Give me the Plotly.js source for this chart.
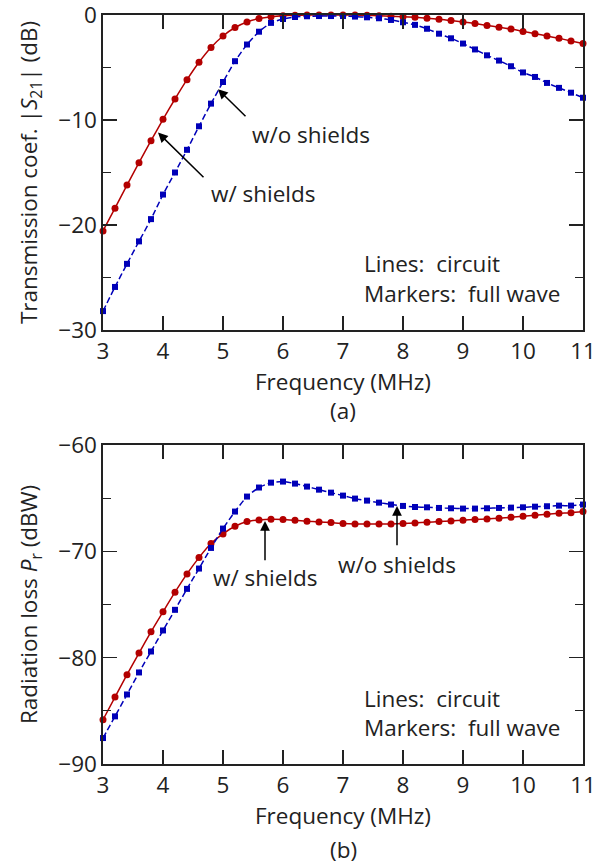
<!DOCTYPE html>
<html>
<head>
<meta charset="utf-8">
<script src="https://cdn.plot.ly/plotly-3.0.1.min.js"></script>
<style>html,body{margin:0;padding:0;background:#fff;}#chart{width:611px;height:867px;}</style>
</head>
<body>
<div id="chart"></div>
<script>
// Frequency samples (MHz)
var freq = [3.0,3.2,3.4,3.6,3.8,4.0,4.2,4.4,4.6,4.8,5.0,5.2,5.4,5.6,5.8,6.0,6.2,6.4,6.6,6.8,7.0,
            7.2,7.4,7.6,7.8,8.0,8.2,8.4,8.6,8.8,9.0,9.2,9.4,9.6,9.8,10.0,10.2,10.4,10.6,10.8,11.0];

// (a) Transmission coefficient |S21| (dB)
var s21With = [-20.56,-18.4,-16.2,-14.06,-11.97,-9.94,-8.0,-6.16,-4.5,-3.09,-2.0,-1.19,-0.66,-0.34,-0.16,-0.06,-0.03,-0.01,0,0,0,
               -0.01,-0.03,-0.07,-0.12,-0.16,-0.22,-0.31,-0.4,-0.53,-0.66,-0.81,-1.0,-1.16,-1.34,-1.56,-1.78,-2.0,-2.22,-2.47,-2.72];
var s21Without = [-28.2,-25.9,-23.7,-21.56,-19.44,-17.1,-15.0,-12.84,-10.6,-8.44,-6.38,-4.4,-2.81,-1.59,-0.75,-0.38,-0.19,-0.12,-0.1,-0.1,-0.1,
                  -0.15,-0.22,-0.31,-0.47,-0.69,-0.94,-1.31,-1.78,-2.22,-2.72,-3.28,-3.84,-4.34,-4.88,-5.47,-5.9,-6.47,-6.94,-7.4,-7.88];

// (b) Radiation loss Pr (dBW)
var prWith = [-85.84,-83.71,-81.6,-79.57,-77.57,-75.69,-73.84,-72.12,-70.59,-69.27,-68.36,-67.64,-67.2,-67.05,-66.98,-67.0,-67.08,-67.17,-67.23,-67.3,-67.38,
              -67.42,-67.42,-67.42,-67.42,-67.39,-67.33,-67.27,-67.2,-67.14,-67.08,-67.0,-66.95,-66.89,-66.8,-66.7,-66.6,-66.51,-66.42,-66.36,-66.26];
var prWithout = [-87.56,-85.52,-83.46,-81.39,-79.42,-77.44,-75.5,-73.53,-71.62,-69.68,-67.86,-66.26,-64.85,-64.0,-63.54,-63.44,-63.63,-63.91,-64.2,-64.48,-64.76,
                 -65.04,-65.23,-65.42,-65.6,-65.73,-65.83,-65.86,-65.92,-65.95,-65.98,-65.98,-65.95,-65.92,-65.89,-65.86,-65.8,-65.76,-65.7,-65.7,-65.6];

var xTicks = [3,4,5,6,7,8,9,10,11];

var RED = '#b30000', BLUE = '#0000b8';
var FONT = 'Open Sans, DejaVu Sans, sans-serif';
var FS = 22.5;

function series(y, xa, ya, color, dash, symbol, size) {
  return {
    x: freq, y: y, xaxis: xa, yaxis: ya, mode: 'lines+markers', type: 'scatter',
    line: {color: color, width: 1.5, dash: dash, shape: 'spline', smoothing: 0.6},
    marker: {color: color, symbol: symbol, size: size},
    showlegend: false, hoverinfo: 'x+y', cliponaxis: false
  };
}

var data = [
  series(s21With, 'x', 'y', RED, 'solid', 'circle', 7),
  series(s21Without, 'x', 'y', BLUE, '6px,3px', 'square', 6),
  series(prWith, 'x2', 'y2', RED, 'solid', 'circle', 7),
  series(prWithout, 'x2', 'y2', BLUE, '6px,3px', 'square', 6)
];

function xAxis(anchor) {
  return {
    anchor: anchor, range: [3, 11], tickvals: xTicks, ticktext: xTicks.map(String),
    ticks: 'inside', ticklen: 14, tickwidth: 1.3, tickcolor: '#222',
    showline: true, linecolor: '#222', linewidth: 1.6, mirror: 'ticks',
    showgrid: false, zeroline: false, fixedrange: true, ticklabeloverflow: 'allow',
    tickfont: {family: FONT, size: FS, color: '#222'},
    title: {text: 'Frequency (MHz)', font: {family: FONT, size: FS, color: '#222'}, standoff: 4}
  };
}
function yAxis(anchor, domain, range, dtick, title) {
  return {
    anchor: anchor, domain: domain, range: range, dtick: dtick, tick0: 0,
    ticks: 'inside', ticklen: 14, tickwidth: 1.3, tickcolor: '#222',
    minor: {dtick: dtick / 2, ticks: 'inside', ticklen: 8, tickwidth: 1.3, tickcolor: '#222', showgrid: false},
    showline: true, linecolor: '#222', linewidth: 1.6, mirror: 'ticks',
    showgrid: false, zeroline: false, fixedrange: true, ticklabeloverflow: 'allow',
    tickfont: {family: FONT, size: FS, color: '#222'},
    title: {text: title, font: {family: FONT, size: FS, color: '#222'}, standoff: 14}
  };
}

var annFont = {family: FONT, size: FS, color: '#222'};
function arrow(xr, yr, x, y, ax, ay) {
  return {xref: xr, yref: yr, axref: xr, ayref: yr, x: x, y: y, ax: ax, ay: ay, text: '',
          showarrow: true, arrowhead: 2, arrowsize: 1.3, arrowwidth: 1.5, arrowcolor: '#000',
          standoff: 0, startstandoff: 0};
}
function label(xr, yr, x, y, text, xanchor) {
  return {xref: xr, yref: yr, x: x, y: y, text: text, showarrow: false,
          xanchor: xanchor || 'center', yanchor: 'middle', font: annFont};
}

var PH = 867 - 15 - 103; // plot area height in px

var annotations = [
  // (a)
  arrow('x', 'y', 4.917, -7.06, 5.4, -9.78),
  label('x', 'y', 6.467, -11.38, 'w/o shields'),
  arrow('x', 'y', 3.917, -11.2, 4.7, -15.6),
  label('x', 'y', 5.683, -17.0, 'w/ shields'),
  label('x', 'y', 7.317, -23.7, 'Lines:\u00a0 circuit', 'left'),
  label('x', 'y', 7.317, -26.53, 'Markers:\u00a0 full wave', 'left'),
  // (b)
  arrow('x2', 'y2', 5.7, -67.14, 5.7, -70.99),
  label('x2', 'y2', 5.71, -72.49, 'w/ shields'),
  arrow('x2', 'y2', 7.9, -65.73, 7.9, -69.58),
  label('x2', 'y2', 7.9, -71.27, 'w/o shields'),
  label('x2', 'y2', 7.317, -83.8, 'Lines:\u00a0 circuit', 'left'),
  label('x2', 'y2', 7.317, -86.53, 'Markers:\u00a0 full wave', 'left'),
  // captions
  {xref: 'paper', yref: 'paper', x: 0.5, y: (764 - 410) / PH, text: '(a)', showarrow: false,
   xanchor: 'center', yanchor: 'middle', font: annFont},
  {xref: 'paper', yref: 'paper', x: 0.5, y: (764 - 849) / PH, text: '(b)', showarrow: false,
   xanchor: 'center', yanchor: 'middle', font: annFont}
];

var layout = {
  width: 611, height: 867,
  margin: {l: 103, r: 28, t: 15, b: 103},
  paper_bgcolor: '#fff', plot_bgcolor: '#fff',
  font: {family: FONT, size: FS, color: '#222'},
  xaxis: xAxis('y'),
  yaxis: yAxis('x', [(764 - 330) / PH, 1], [-30, 0], 10, 'Transmission coef. |<i>S</i><sub>21</sub>| (dB)'),
  xaxis2: xAxis('y2'),
  yaxis2: yAxis('x2', [0, (764 - 445) / PH], [-90, -60], 10, 'Radiation loss <i>P</i><sub>r</sub> (dBW)'),
  annotations: annotations,
  showlegend: false
};

Plotly.newPlot('chart', data, layout, {displayModeBar: false, staticPlot: true});
</script>
</body>
</html>
